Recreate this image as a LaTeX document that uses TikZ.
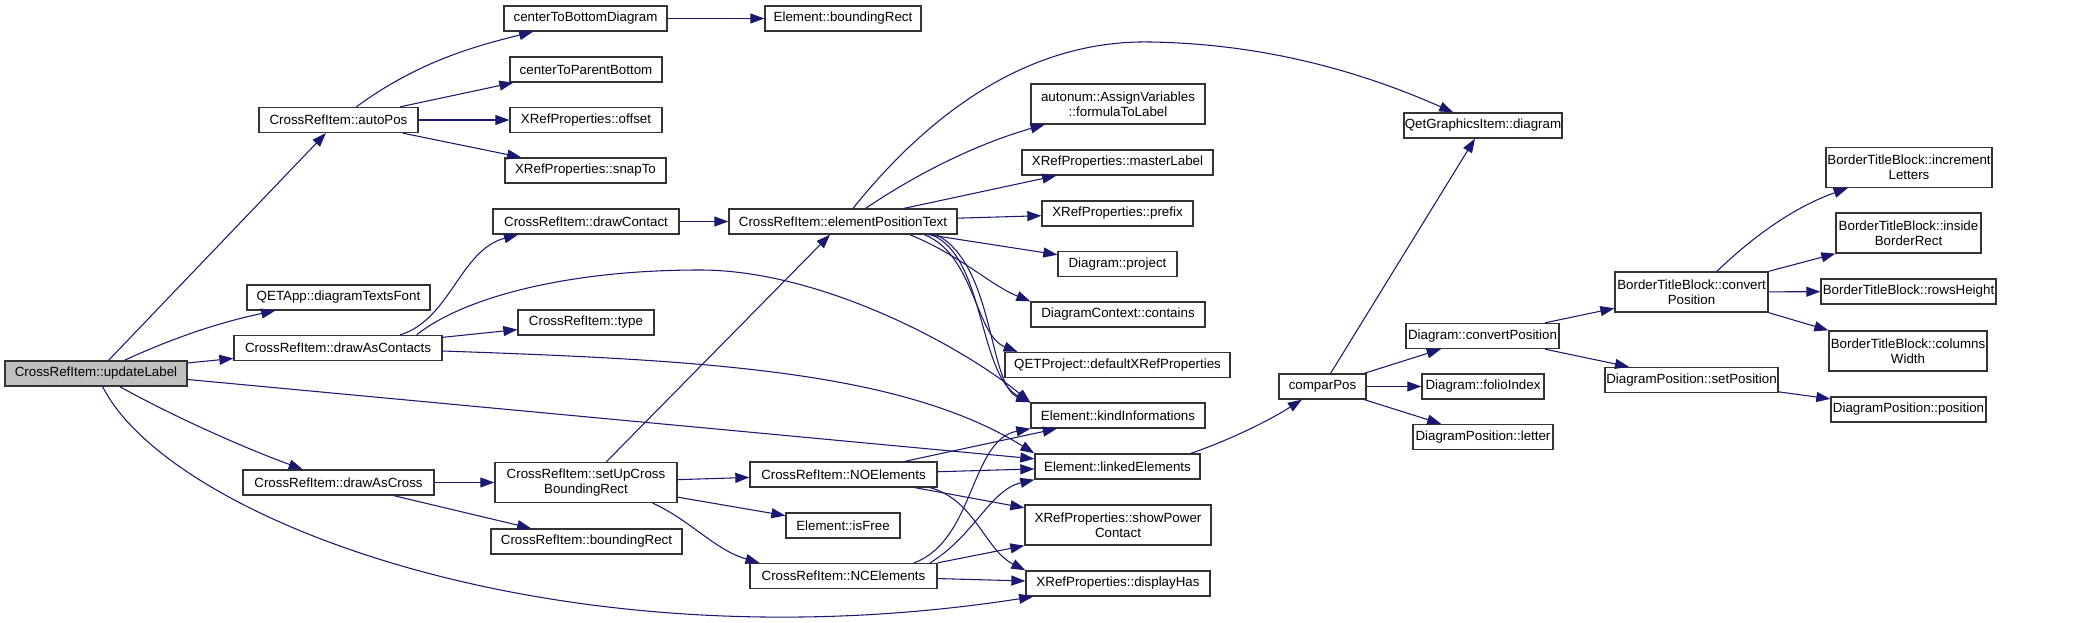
\documentclass[tikz,border=0pt]{standalone}
\usepackage{fontspec}
\setmainfont{Liberation Sans}
\usetikzlibrary{arrows.meta}
\definecolor{bleunuit}{HTML}{191970}
\definecolor{bordgris}{HTML}{333333}
\begin{document}
\begin{tikzpicture}[x=0.75pt, y=-0.75pt,
    fonction/.style={draw=bordgris, line width=1pt, fill=white, inner sep=0pt,
        minimum height=18.75pt, align=center, font=\fontsize{10}{11.5}\selectfont},
    deuxlignes/.style={minimum height=30pt},
    appel/.style={draw=bleunuit, line width=0.8pt, -{Triangle[length=10.5pt,width=7.5pt]}}]
    \useasboundingbox (0,0) rectangle (2073,623);

    % Fonction de départ
    \node[fonction, fill=black!25, minimum width=136.5pt] (update_label) at (96,373.5) {CrossRefItem::updateLabel};

    % Premier niveau
    \node[fonction, minimum width=119.25pt] (auto_pos) at (338.5,120) {CrossRefItem::autoPos};
    \node[fonction, minimum width=137.25pt] (texts_font) at (338.5,297.5) {QETApp::diagramTextsFont};
    \node[fonction, minimum width=156pt] (draw_as_contacts) at (338,348) {CrossRefItem::drawAsContacts};
    \node[fonction, minimum width=143.25pt] (draw_as_cross) at (338.5,482.5) {CrossRefItem::drawAsCross};

    % Deuxième niveau
    \node[fonction, minimum width=122.25pt] (center_bottom) at (585.5,18.5) {centerToBottomDiagram};
    \node[fonction, minimum width=114pt] (center_parent) at (586,69.5) {centerToParentBottom};
    \node[fonction, minimum width=114pt] (xref_offset) at (586,120) {XRefProperties::offset};
    \node[fonction, minimum width=120.75pt] (xref_snap) at (585.5,170.5) {XRefProperties::snapTo};
    \node[fonction, minimum width=139.5pt] (draw_contact) at (586,221.5) {CrossRefItem::drawContact};
    \node[fonction, minimum width=102pt] (item_type) at (586,322.5) {CrossRefItem::type};
    \node[fonction, deuxlignes, minimum width=136.5pt] (setup_cross) at (586,482.5) {CrossRefItem::setUpCross\\BoundingRect};
    \node[fonction, minimum width=143.25pt] (item_rect) at (586.5,541.5) {CrossRefItem::boundingRect};

    % Troisième niveau
    \node[fonction, minimum width=117pt] (elem_rect) at (843,18.5) {Element::boundingRect};
    \node[fonction, minimum width=171pt] (elem_pos_text) at (843,221.5) {CrossRefItem::elementPositionText};
    \node[fonction, minimum width=140.25pt] (no_elements) at (843.5,474.5) {CrossRefItem::NOElements};
    \node[fonction, minimum width=85.5pt] (elem_free) at (843,525.5) {Element::isFree};
    \node[fonction, minimum width=140.25pt] (nc_elements) at (843.5,576) {CrossRefItem::NCElements};

    % Quatrième niveau
    \node[fonction, deuxlignes, minimum width=130.5pt] (formula_label) at (1118,104) {autonum::AssignVariables\\::formulaToLabel};
    \node[fonction, minimum width=143.25pt] (master_label) at (1117.5,162.5) {XRefProperties::masterLabel};
    \node[fonction, minimum width=113.25pt] (xref_prefix) at (1117.5,213.5) {XRefProperties::prefix};
    \node[fonction, minimum width=89.25pt] (diagram_project) at (1117.5,264) {Diagram::project};
    \node[fonction, minimum width=130.5pt] (context_contains) at (1118,314.5) {DiagramContext::contains};
    \node[fonction, minimum width=168.75pt] (default_xref) at (1117.5,365) {QETProject::defaultXRefProperties};
    \node[fonction, minimum width=130.5pt] (kind_info) at (1118,415.5) {Element::kindInformations};
    \node[fonction, minimum width=123.75pt] (linked_elements) at (1117.5,466.5) {Element::linkedElements};
    \node[fonction, deuxlignes, minimum width=139.5pt] (show_power) at (1118,525) {XRefProperties::showPower\\Contact};
    \node[fonction, minimum width=138pt] (display_has) at (1118,583.5) {XRefProperties::displayHas};

    % Comparaison des positions
    \node[fonction, minimum width=65.25pt] (compar_pos) at (1322.5,386.5) {comparPos};
    \node[fonction, minimum width=118.5pt] (qgi_diagram) at (1483,125.5) {QetGraphicsItem::diagram};
    \node[fonction, minimum width=114.75pt] (convert_position) at (1482.5,336) {Diagram::convertPosition};
    \node[fonction, minimum width=91.5pt] (folio_index) at (1483,386.5) {Diagram::folioIndex};
    \node[fonction, minimum width=105pt] (pos_letter) at (1483,437) {DiagramPosition::letter};

    % Cartouche et positions
    \node[fonction, deuxlignes, minimum width=114.75pt] (btb_convert) at (1691.5,292) {BorderTitleBlock::convert\\Position};
    \node[fonction, minimum width=129.75pt] (set_position) at (1691.5,380) {DiagramPosition::setPosition};
    \node[fonction, deuxlignes, minimum width=124.5pt] (increment_letters) at (1909,167.5) {BorderTitleBlock::increment\\Letters};
    \node[fonction, deuxlignes, minimum width=108.75pt] (inside_rect) at (1908.5,233) {BorderTitleBlock::inside\\BorderRect};
    \node[fonction, minimum width=131.25pt] (rows_height) at (1908.5,291.5) {BorderTitleBlock::rowsHeight};
    \node[fonction, deuxlignes, minimum width=118.5pt] (columns_width) at (1908,351) {BorderTitleBlock::columns\\Width};
    \node[fonction, minimum width=116.25pt] (pos_position) at (1908.5,409.5) {DiagramPosition::position};

    % Appels depuis updateLabel
    \draw[appel] (update_label) -- (auto_pos);
    \draw[appel] (update_label) .. controls (190,330) and (240,318) .. (texts_font);
    \draw[appel] ([yshift=7.9pt]update_label.east) -- (draw_as_contacts);
    \draw[appel] ([yshift=-4.5pt]update_label.east) -- (linked_elements);
    \draw[appel] (update_label) .. controls (180,420) and (250,450) .. (draw_as_cross);
    \draw[appel] (update_label) .. controls (170,520) and (560,670) .. (display_has);

    % Appels depuis autoPos
    \draw[appel] (auto_pos) .. controls (420,60) and (480,45) .. (center_bottom);
    \draw[appel] (auto_pos) -- ([xshift=3pt]center_parent.south west);
    \draw[appel] (auto_pos) -- (xref_offset);
    \draw[appel] (auto_pos) -- (xref_snap);
    \draw[appel] (center_bottom) -- (elem_rect);

    % Appels depuis drawAsContacts
    \draw[appel] ([xshift=46.5pt]draw_as_contacts.north) .. controls (450,320) and (460,250) .. ([xshift=-51pt]draw_contact.south);
    \draw[appel] ([xshift=59pt]draw_as_contacts.north) .. controls (460,300) and (560,270) .. (700,270)
        .. controls (820,270) and (960,345) .. (kind_info.north west);
    \draw[appel] ([yshift=8pt]draw_as_contacts.east) -- (item_type);
    \draw[appel] ([yshift=-2.25pt]draw_as_contacts.east) .. controls (700,360) and (900,370) .. (linked_elements.north west);

    % Appels depuis drawAsCross
    \draw[appel] (draw_as_cross) -- (setup_cross);
    \draw[appel] (draw_as_cross) -- (item_rect);
    \draw[appel] (draw_contact) -- (elem_pos_text);

    % Appels depuis setUpCrossBoundingRect
    \draw[appel] (setup_cross) -- (elem_pos_text);
    \draw[appel] (setup_cross) -- (no_elements);
    \draw[appel] ([yshift=-11pt]setup_cross.east) -- (elem_free);
    \draw[appel] ([xshift=50pt]setup_cross.south) .. controls (690,520) and (715,550) .. ([xshift=-63pt]nc_elements.north);

    % Appels depuis elementPositionText
    \draw[appel] ([xshift=7.5pt]elem_pos_text.north) .. controls (940,100) and (1040,40) .. (1150,42)
        .. controls (1280,44) and (1380,80) .. (qgi_diagram);
    \draw[appel] ([xshift=17pt]elem_pos_text.north) .. controls (930,165) and (990,140) .. (formula_label);
    \draw[appel] (elem_pos_text) -- (master_label);
    \draw[appel] (elem_pos_text) -- (xref_prefix);
    \draw[appel] (elem_pos_text) -- (diagram_project);
    \draw[appel] ([xshift=50pt]elem_pos_text.south) .. controls (960,255) and (990,285) .. (context_contains.north west);
    \draw[appel] ([xshift=61pt]elem_pos_text.south) .. controls (975,255) and (975,335) .. ([xshift=-75pt]default_xref.north);
    \draw[appel] ([xshift=66pt]elem_pos_text.south) .. controls (985,255) and (978,375) .. (kind_info.north west);
    \draw[appel] ([xshift=70pt]elem_pos_text.south) .. controls (995,265) and (988,385) .. (kind_info.north west);

    % Appels depuis NOElements et NCElements
    \draw[appel] (no_elements) -- (kind_info);
    \draw[appel] (no_elements) -- (linked_elements);
    \draw[appel] (no_elements) -- (show_power);
    \draw[appel] ([xshift=65pt]no_elements.south) .. controls (975,500) and (985,550) .. (display_has.north west);
    \draw[appel] ([xshift=53pt]nc_elements.north) .. controls (975,540) and (970,440) .. (kind_info.south west);
    \draw[appel] ([xshift=65pt]nc_elements.north) .. controls (975,535) and (990,490) .. (linked_elements.south west);
    \draw[appel] (nc_elements.north east) -- (show_power.south west);
    \draw[appel] (nc_elements) -- (display_has);

    % Comparaison
    \draw[appel] ([xshift=55pt]linked_elements.north) .. controls (1230,440) and (1270,420) .. (compar_pos);
    \draw[appel] (compar_pos) -- (qgi_diagram);
    \draw[appel] (compar_pos) -- (convert_position);
    \draw[appel] (compar_pos) -- (folio_index);
    \draw[appel] (compar_pos) -- (pos_letter);
    \draw[appel] (convert_position) -- (btb_convert);
    \draw[appel] (convert_position) -- (set_position);

    % Cartouche
    \draw[appel] ([xshift=19pt]btb_convert.north) .. controls (1760,230) and (1800,205) .. ([xshift=-46pt]increment_letters.south);
    \draw[appel] (btb_convert.north east) -- (inside_rect.south west);
    \draw[appel] (btb_convert) -- (rows_height);
    \draw[appel] (btb_convert.south east) -- (columns_width.north west);
    \draw[appel] (set_position) -- (pos_position);

\end{tikzpicture}
\end{document}
